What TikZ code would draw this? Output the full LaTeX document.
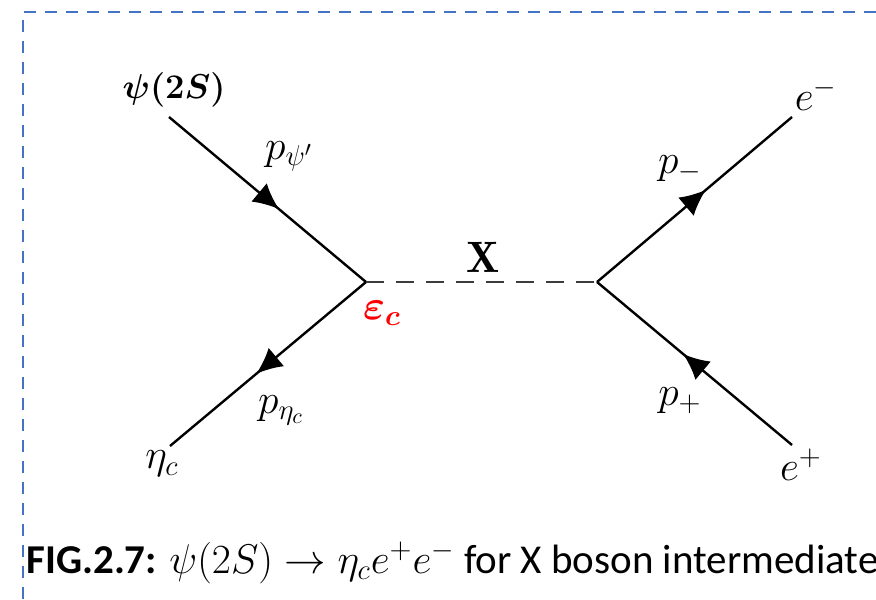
\documentclass[tikz,border=0pt]{standalone}
\usepackage{amsmath}
\usepackage{amssymb}
\usepackage{fontspec}
\setsansfont{Carlito}
\usepackage{tikz}
\usetikzlibrary{arrows.meta}
\usetikzlibrary{decorations.markings}
\usepackage{xcolor}
\definecolor{frameblue}{RGB}{68,114,196}
\definecolor{bosongrey}{RGB}{60,60,60}
\newcommand{\lblsize}{\fontsize{22}{26}\selectfont}
\newcommand{\psisize}{\fontsize{19}{23}\selectfont}
\newcommand{\capsize}{\fontsize{20.5}{24}\selectfont}

\begin{document}
\begin{tikzpicture}[x=0.5pt,y=-0.5pt]
\tikzstyle{every node}=[inner sep=0pt,font=\lblsize]
\tikzstyle{fermion}=[line width=1.2pt,postaction={decorate},
  decoration={markings,mark=at position 0.56 with {\arrow{Latex[length=13pt,width=12pt]}}}]
\tikzstyle{boson}=[line width=1.4pt,color=bosongrey,dash pattern=on 9pt off 6pt]
\tikzstyle{frame}=[line width=1.2pt,color=frameblue,dash pattern=on 6pt off 4.5pt]
\useasboundingbox (0,0) rectangle (876,599);
\draw[frame] (23,599) -- (23,12) -- (876,12);
\coordinate (v1) at (366,282);
\coordinate (v2) at (597,282);
\coordinate (a) at (169,117);
\coordinate (b) at (170,446);
\coordinate (c) at (792,117);
\coordinate (d) at (792,445);
\draw[fermion] (a) -- (v1);
\draw[fermion] (v1) -- (b);
\draw[fermion] (v2) -- (c);
\draw[fermion] (d) -- (v2);
\draw[boson] (v1) -- (v2);
\node[font=\psisize] (psi) at (174,90) {$\boldsymbol{\psi(2S)}$};
\node (ppsi) at (289,156) {$p_{\psi'}$};
\node (etac) at (162,464) {$\eta_c$};
\node (peta) at (281,410) {$p_{\eta_c}$};
\node[text=red] (eps) at (382,313) {$\boldsymbol{\varepsilon_c}$};
\node (x) at (483,257) {$\mathbf{X}$};
\node (em) at (816,95) {$e^-$};
\node (pm) at (680,169) {$p_-$};
\node (ep) at (801,465) {$e^+$};
\node (pp) at (680,401) {$p_+$};
\node[anchor=west,font=\capsize] (cap) at (26,563)
  {\sffamily\textbf{FIG.2.7:} $\psi(2S)\rightarrow\eta_c e^+e^-$ for X boson intermediate};
\end{tikzpicture}
\end{document}
